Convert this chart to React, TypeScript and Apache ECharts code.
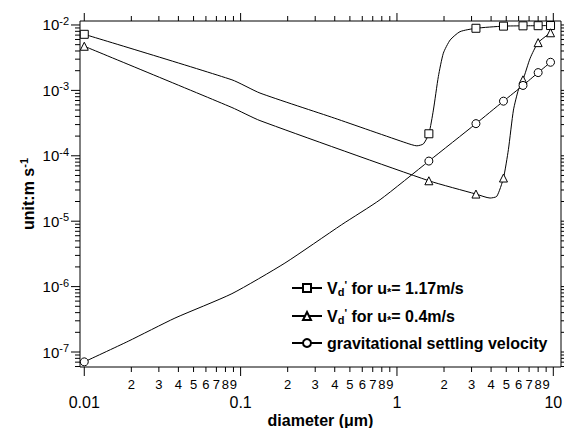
import React, { useEffect, useRef } from 'react';
import * as echarts from 'echarts';

const FONT = '"Liberation Sans", Arial, Helvetica, sans-serif';

// Axis extents (log axes)
const X_MIN = 0.00939;
const X_MAX = 11.2;
const Y_MIN = 5.9e-8;
const Y_MAX = 0.0115;

// Tick definitions
const xMajorTicks = [0.01, 0.1, 1, 10];
const xMajorLabels = ['0.01', '0.1', '1', '10'];
const xDecades = [0.01, 0.1, 1];
const minorDigits = [2, 3, 4, 5, 6, 7, 8, 9];
const yMajorExps = [-7, -6, -5, -4, -3, -2];
const yMinorExps = [-8, -7, -6, -5, -4, -3, -2];

// Series names
const names = [
  "Vd' for u* = 1.17m/s",
  "Vd' for u* = 0.4m/s",
  'gravitational settling velocity',
];

// Vd' for u* = 1.17 m/s  (squares)
const d117 = [0.01, 0.088, 0.133, 0.4, 1.156, 1.34, 1.476, 1.6, 1.71, 1.84, 1.98, 2.19, 2.53, 3.2, 4.8, 6.4, 8.0, 9.6];
const v117 = [7.2e-3, 1.45e-3, 9.1e-4, 3.75e-4, 1.56e-4, 1.42e-4, 1.52e-4, 2.17e-4, 5.0e-4, 1.63e-3, 3.7e-3, 5.9e-3, 7.9e-3, 8.9e-3, 9.6e-3, 9.7e-3, 9.75e-3, 9.8e-3];
const m117 = [1, 0, 0, 0, 0, 0, 0, 1, 0, 0, 0, 0, 0, 1, 1, 1, 1, 1];

// Vd' for u* = 0.4 m/s  (triangles)
const d04 = [0.01, 0.088, 0.133, 1.6, 3.2, 3.94, 4.35, 4.8, 5.16, 5.56, 5.98, 6.4, 7.11, 8.0, 9.6];
const v04 = [4.73e-3, 5.47e-4, 3.45e-4, 4.15e-5, 2.6e-5, 2.26e-5, 2.4e-5, 4.57e-5, 1.24e-4, 5.0e-4, 1.02e-3, 1.45e-3, 3.1e-3, 5.37e-3, 7.6e-3];
const m04 = [1, 0, 0, 1, 1, 0, 0, 1, 0, 0, 0, 1, 0, 1, 1];

// gravitational settling velocity (circles)
const dGrav = [0.01, 0.0191, 0.038, 0.088, 0.192, 0.443, 0.78, 1.6, 3.2, 4.8, 6.4, 8.0, 9.6];
const vGrav = [7.07e-8, 1.46e-7, 3.3e-7, 7.8e-7, 2.29e-6, 8.85e-6, 2.13e-5, 8.3e-5, 3.1e-4, 6.84e-4, 1.19e-3, 1.87e-3, 2.69e-3];
const mGrav = [1, 0, 0, 0, 0, 0, 0, 1, 1, 1, 1, 1, 1];

const build = (xs: number[], ys: number[], marks: number[]) =>
  xs.map((x, i) => (marks[i] ? { value: [x, ys[i]] } : { value: [x, ys[i]], symbol: 'none' }));

const richLegend = {
  b: { fontFamily: FONT, fontSize: 16, fontWeight: 'bold', color: '#000', lineHeight: 18 },
  sub: { fontFamily: FONT, fontSize: 11, fontWeight: 'bold', color: '#000', lineHeight: 9, verticalAlign: 'bottom' },
  sup: { fontFamily: FONT, fontSize: 11, fontWeight: 'bold', color: '#000', lineHeight: 9, verticalAlign: 'top' },
};

const legendText: Record<string, string> = {
  [names[0]]: "{b|V}{sub|d}{sup|'}{b| for u}{sub|*}{b|= 1.17m/s}",
  [names[1]]: "{b|V}{sub|d}{sup|'}{b| for u}{sub|*}{b|= 0.4m/s}",
  [names[2]]: '{b|gravitational settling velocity}',
};

export default function App() {
  const ref = useRef<HTMLDivElement>(null);

  useEffect(() => {
    if (!ref.current) return;
    const chart = echarts.init(ref.current, undefined, { renderer: 'svg' });

    const seriesCommon = {
      type: 'line',
      symbolSize: 8,
      showAllSymbol: true,
      smooth: 0.2,
      lineStyle: { color: '#000', width: 1 },
      itemStyle: { color: '#fff', borderColor: '#000', borderWidth: 1 },
      emphasis: { disabled: true },
      z: 3,
    };

    const hiddenAxis = {
      axisLine: { show: false },
      axisTick: { show: false },
      axisLabel: { show: false },
      splitLine: { show: false },
      minorTick: { show: false },
      minorSplitLine: { show: false },
    };

    chart.setOption({
      animation: false,
      backgroundColor: '#fff',
      grid: {
        left: 80,
        top: 21,
        right: 3,
        bottom: 61,
        show: true,
        borderColor: '#000',
        borderWidth: 1,
        backgroundColor: 'transparent',
      },
      xAxis: { type: 'log', logBase: 10, min: X_MIN, max: X_MAX, ...hiddenAxis },
      yAxis: { type: 'log', logBase: 10, min: Y_MIN, max: Y_MAX, ...hiddenAxis },
      legend: {
        orient: 'vertical',
        left: 291,
        top: 279,
        itemWidth: 30,
        itemHeight: 10,
        itemGap: 10,
        padding: 0,
        selectedMode: false,
        data: names,
        formatter: (n: string) => legendText[n],
        textStyle: { fontFamily: FONT, fontSize: 16, fontWeight: 'bold', color: '#000', rich: richLegend },
      },
      series: [
        { ...seriesCommon, name: names[0], symbol: 'rect', data: build(d117, v117, m117) },
        { ...seriesCommon, name: names[1], symbol: 'triangle', data: build(d04, v04, m04) },
        { ...seriesCommon, name: names[2], symbol: 'circle', data: build(dGrav, vGrav, mGrav) },
      ],
    });

    const px = (x: number) => chart.convertToPixel({ xAxisIndex: 0 }, x) as number;
    const py = (y: number) => chart.convertToPixel({ yAxisIndex: 0 }, y) as number;
    const L = px(X_MIN);
    const R = px(X_MAX);
    const T = py(Y_MAX);
    const B = py(Y_MIN);

    const g: any[] = [];
    const seg = (x1: number, y1: number, x2: number, y2: number) =>
      g.push({ type: 'line', silent: true, shape: { x1, y1, x2, y2 }, style: { stroke: '#000', lineWidth: 1 } });

    // X ticks (bottom and top)
    xMajorTicks.forEach((v, i) => {
      const x = px(v);
      seg(x, B, x, B + 9);
      seg(x, T, x, T - 8);
      g.push({
        type: 'text', silent: true, x, y: B + 35,
        style: { text: xMajorLabels[i], font: `16px ${FONT}`, fill: '#000', align: 'center', verticalAlign: 'middle' },
      });
    });
    xDecades.forEach((dec) => {
      minorDigits.forEach((k) => {
        const x = px(dec * k);
        seg(x, B, x, B + 5);
        seg(x, T, x, T - 5);
        g.push({
          type: 'text', silent: true, x, y: B + 17,
          style: { text: String(k), font: `13px ${FONT}`, fill: '#000', align: 'center', verticalAlign: 'middle' },
        });
      });
    });

    // Y ticks (left and right)
    yMajorExps.forEach((e) => {
      const y = py(Math.pow(10, e));
      seg(L, y, L - 9, y);
      seg(R, y, R + 8, y);
      g.push({
        type: 'text', silent: true, x: L - 11, y: y - 1,
        style: {
          text: `{b|10}{e|${e}}`,
          align: 'right',
          verticalAlign: 'middle',
          rich: {
            b: { fontFamily: FONT, fontSize: 15, fill: '#000', lineHeight: 17, verticalAlign: 'bottom' },
            e: { fontFamily: FONT, fontSize: 11, fill: '#000', lineHeight: 10, verticalAlign: 'top' },
          },
        },
      });
    });
    yMinorExps.forEach((e) => {
      minorDigits.forEach((k) => {
        const v = k * Math.pow(10, e);
        if (v < Y_MIN || v > Y_MAX) return;
        const y = py(v);
        seg(L, y, L - 5, y);
        seg(R, y, R + 5, y);
      });
    });

    // Axis titles
    g.push({
      type: 'text', silent: true, x: (L + R) / 2, y: 420,
      style: { text: 'diameter (μm)', font: `bold 16px ${FONT}`, fill: '#000', align: 'center', verticalAlign: 'middle' },
    });
    g.push({
      type: 'text', silent: true, x: 27, y: (T + B) / 2, rotation: Math.PI / 2,
      style: {
        text: '{b|unit:m s}{e|-1}',
        align: 'center',
        verticalAlign: 'middle',
        rich: {
          b: { fontFamily: FONT, fontSize: 16, fontWeight: 'bold', fill: '#000', lineHeight: 18, verticalAlign: 'bottom' },
          e: { fontFamily: FONT, fontSize: 11, fontWeight: 'bold', fill: '#000', lineHeight: 10, verticalAlign: 'top' },
        },
      },
    });

    chart.setOption({ graphic: g });

    return () => chart.dispose();
  }, []);

  return <div ref={ref} style={{ width: 564, height: 428, position: 'absolute', left: 0, top: 0 }} />;
}
